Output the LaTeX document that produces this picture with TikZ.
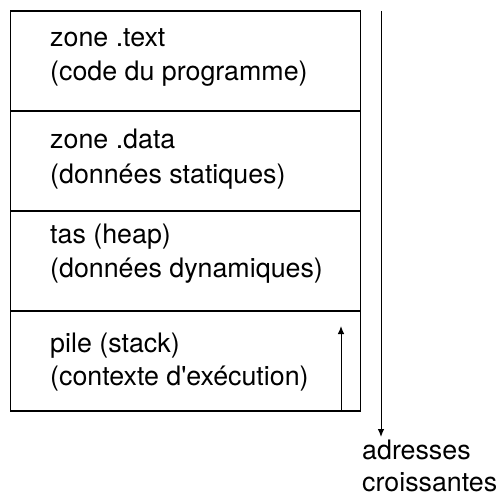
\documentclass[tikz,border=0pt]{standalone}
\usepackage{fontspec}
\setmainfont{TeX Gyre Heros}
\usetikzlibrary{arrows.meta}
\begin{document}
\begin{tikzpicture}[x=1pt,y=-1pt,
  zone/.style={draw, line width=1.4pt, minimum width=350pt, minimum height=100pt,
               inner sep=0pt, outer sep=0pt, anchor=north west},
  lbl/.style={anchor=base west, inner sep=0pt, font=\fontsize{26.8}{32}\selectfont},
  tip/.style={-{Latex[length=8pt,width=6.5pt]}, line width=1pt}]
\useasboundingbox (0,0) rectangle (496,497);

% memory segments, stacked from low to high addresses
\node[zone] (text)  at (10.5,11)  {};
\node[zone] (data)  at (10.5,111) {};
\node[zone] (heap)  at (10.5,211) {};
\node[zone] (stack) at (10.5,311) {};

% segment labels
\node[lbl] (t1) at (50,47)  {zone .text};
\node[lbl] (t2) at (50,81)  {(code du programme)};
\node[lbl] (d1) at (50,149) {zone .data};
\node[lbl] (d2) at (50,183) {(données statiques)};
\node[lbl] (h1) at (50,243) {tas (heap)};
\node[lbl] (h2) at (50,277) {(données dynamiques)};
\node[lbl] (s1) at (50,352) {pile (stack)};
\node[lbl] (s2) at (50,385) {(contexte d\textquotesingle exécution)};

% stack growth arrow
\coordinate (sbot) at (341,411);
\coordinate (stop) at (341,326);
\draw[tip] (sbot) -- (stop);

% address direction arrow
\coordinate (atop) at (381,11);
\coordinate (abot) at (381,437);
\draw[tip] (atop) -- (abot);

\node[lbl] (a1) at (362,459) {adresses};
\node[lbl] (a2) at (362,491) {croissantes};
\end{tikzpicture}
\end{document}
